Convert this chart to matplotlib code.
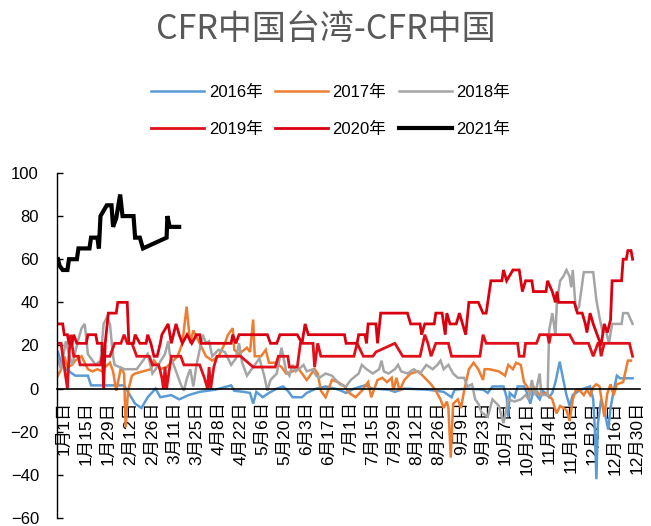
import numpy as np
import matplotlib
matplotlib.use('Agg')
import matplotlib.pyplot as plt

plt.rcParams['font.family'] = ['Liberation Sans', 'Noto Sans CJK SC', 'DejaVu Sans']

############ data (day of year, value) ############
tickLabels = ['1月1日', '1月15日', '1月29日', '2月12日', '2月26日', '3月11日', '3月25日',
              '4月8日', '4月22日', '5月6日', '5月20日', '6月3日', '6月17日', '7月1日',
              '7月15日', '7月29日', '8月12日', '8月26日', '9月9日', '9月23日', '10月7日',
              '10月21日', '11月4日', '11月18日', '12月2日', '12月16日', '12月30日']

days2016 = [0, 2, 5, 9, 11, 19, 21, 42, 44, 49, 53, 57, 62, 65, 72, 77, 83, 90, 95, 100, 105, 110,
            112, 118, 122, 124, 126, 130, 134, 139, 143, 146, 149, 155, 158, 164, 170, 176, 180, 183,
            188, 195, 200, 210, 214, 220, 235, 245, 250, 252, 260, 270, 273, 276, 283, 285, 286, 287,
            290, 292, 296, 298, 300, 302, 306, 308, 312, 314, 316, 318.7, 321, 323, 325, 327, 331,
            334, 338, 340, 341, 342, 343, 345, 347, 349.5, 351, 353, 355, 357, 365]
vals2016 = [17, 12, 9, 7, 6, 6, 1.5, 1.5, -1, -7, -9, -4, 0, -4, -3, -5, -3, -1.5, -1, -0.5, 0.5, 1.5,
            -1, -1.5, -2, -7, -1.5, -4, -2, 0, 1, -1, -4, -4, -2, 0, 1, 0, -1, -2,
            0, 1.5, 0, -0.5, -1.5, 0, -0.5, -1.5, -4, -0.5, 0, -0.5, -2, 1, 1, -4, -13, -2,
            -4, 1, 1, -2, -7, -1, -5, -1, -4, -2, 3, 12.5, 4, -3, -8, -3, -1,
            0, 1, -5, -19, -42, -16, -5, -10, -19, -9, -1, 6, 4.8, 4.8]

days2017 = [0, 2, 4, 6, 9, 11, 15, 19, 22, 25, 28, 30, 33, 35, 37, 39, 40, 42, 43, 44.5, 47, 49, 54,
            59, 61, 65, 69, 72, 76, 79, 81.7, 84, 86, 88, 90, 94, 98, 102, 106, 108, 111, 112, 115,
            120, 122, 124, 125, 129, 132, 134, 138, 142, 145, 149, 153, 156, 158, 163, 165, 167, 170,
            174, 178, 182, 185, 189, 193, 197, 199, 203, 206, 209, 212, 213, 215, 217, 220, 224, 229,
            233, 237, 240, 243, 245, 247, 248, 249.5, 251, 254, 256, 258, 261, 264, 267, 270, 271,
            274, 280, 284, 286, 289, 291, 294, 296, 298, 300, 302, 306, 310, 314, 316.6, 319, 323,
            325, 327, 329, 331, 334, 336, 338, 340, 342, 344, 347, 349, 351, 353, 355, 359, 362, 364]
vals2017 = [6, 9, 15, 10, 11, 13, 15, 9, 8, 9, 8, 10, 12, 8, -1, 6, 10, 7, -18, -1, 6, 7, 8,
            9, 13, 9, 10, 12, 15, 21, 38, 21, 27, 24, 21, 15, 13, 15, 21, 25, 28, 18, 16,
            19, 17, 32, 15, 15, 18, 12, 12, 10, 7, 8, 9, 6, 4, 9, 7, -1, -4,
            4, 3, 1, -2, -4, -1, 3, -4, 4, 5, 3, 5, -1, 5, -1, 4, 7, 8,
            5, 2, -1, -5, -9, -6, -9, -32, -7, -5, -9, -1, 9, 12, 9, 4, 9,
            9, 8, 6, 11, 9, 12, 11, 3, 1, -2, 1, -3, -2, -5, -11.5, -8, -10,
            -15, -5, -0.5, -0.5, -3, -0.5, -3, 0.7, 2, 1, -13, -2, 2, -3, 2, 3, 13, 13]

days2018 = [0, 2, 5, 7, 9, 13, 15, 17, 19, 24, 27, 29, 31, 33, 35, 36, 42, 50, 54, 57, 60, 62, 68,
            70, 71, 74, 78, 80, 82, 84, 86, 88, 90, 92, 94, 96, 98, 102, 106, 110, 113, 115, 117,
            120, 124, 128, 131, 133, 135, 139, 142, 145, 147, 149, 151, 153, 156, 158, 162, 164, 166,
            170, 174, 179, 183, 186, 191, 193, 196, 200, 204, 205.5, 207, 210, 214, 216, 218, 222,
            226, 230, 234, 238, 241, 243, 245, 248, 251, 254, 258, 260, 263, 265, 267, 269, 273,
            276, 280, 283, 286, 290, 294, 297, 299, 301, 303, 306, 307, 311, 312, 314, 316, 317,
            319, 321, 323, 325, 326, 327, 329, 331, 334, 340, 342, 344, 346, 348, 350, 352, 358,
            359, 362, 365]
vals2018 = [13, 9, 22, 16, 11, 23, 28, 30, 16, 11, 13, 30, 33, 30, 15, 11, 9, 9, 13, 16, 7, 9, 16,
            22, 16, 10, 2, -1, 5, 9, 1, 11, 18, 25, 21, 22, 15, 18, 17, 11, 14, 21, 12,
            6, 10, 14, 6, -1, 4, 7, 19, 8, 6, 11, 8, 9, 11, 8, 9, 6, 5,
            7, 6, 2, 1, 4, 7, 11, 9, 7, 9, 13, 8, 7, 9, 11, 8, 7,
            9, 7, 11, 9, 11, 13, 9, 11, 7, 5, 5, 1, 2, -5, -7, -11, -13,
            -5, -8, -16, -5, -6, -5, -3, -5, 4, -3, 7, -3, -3, 27, 35, 25, 41,
            50, 52, 55, 52, 47, 55, 36, 38, 54, 54, 41, 33, 26, 27, 21, 30, 30,
            35, 35, 30]

days2019 = [0, 2, 3, 6, 7, 8, 10, 13, 14, 27, 28, 33, 36, 40, 42, 44, 47, 50, 58, 60, 64, 66, 67,
            68, 69, 71, 72, 78, 80, 86, 90, 93, 95, 96, 97, 99, 101, 113, 116, 124, 138, 140, 146,
            147, 152, 154, 162, 163, 165, 167, 183, 188, 190, 194, 200, 202, 214, 219, 230, 233,
            235, 237, 240, 248, 250, 268, 270, 272, 292, 293, 296, 297, 304, 306, 311, 312, 313,
            325, 328, 337, 340, 343, 344, 345, 347, 363, 365]
vals2019 = [21, 21, 15, 0, 15, 25, 15, 15, 11, 11, 15, 15, 21, 21, 25, 21, 21, 15, 15, 11, 11, 5, 0,
            10, 0, 10, 15, 15, 11, 11, 11, 5, 0, 10, 0, 10, 15, 15, 15, 10, 10, 15, 15,
            10, 10, 21, 21, 10, 21, 15, 15, 15, 21, 15, 15, 17, 21, 15, 15, 25,
            21, 15, 21, 21, 15, 15, 25, 21, 21, 15, 15, 21, 21, 25, 25, 21, 25,
            25, 21, 21, 15, 21, 21, 15, 21, 21, 15]

days2020 = [0, 3, 4, 6, 7, 9, 10, 12, 18, 19, 24, 25, 28, 29, 30, 32, 37, 38, 44, 45, 48, 49, 52,
            56, 57, 59, 61, 63, 65, 66, 70, 72, 75, 77, 79, 82, 85, 88, 90, 91, 94, 110, 111, 113,
            115, 126, 133, 135, 139, 141, 152, 155, 157, 159, 182, 183, 190, 191, 195, 196, 197, 202,
            203, 205, 222, 224, 230, 231, 233, 239, 240, 244, 246, 247, 249, 253, 255, 259, 261, 267,
            270, 272, 275, 282, 283, 285, 289, 293, 295, 297, 301, 302, 310, 311, 314, 316, 317,
            318, 328, 330, 333, 335, 336, 338, 340, 342, 345, 347, 349, 351, 352, 358, 359, 361,
            362, 364, 365]
vals2020 = [30, 30, 25, 25, 21, 21, 25, 21, 21, 25, 25, 21, 21, 0, 21, 35, 35, 40, 40, 21, 21, 25, 21,
            21, 25, 21, 15, 15, 21, 25, 30, 21, 30, 25, 21, 25, 21, 25, 25, 21, 21, 21, 25, 21,
            25, 25, 25, 21, 21, 25, 25, 21, 30, 25, 25, 21, 21, 25, 25, 21, 30, 30,
            21, 35, 35, 30, 30, 25, 30, 30, 35, 35, 25, 35, 30, 30, 35, 25, 40, 40,
            35, 35, 50, 50, 55, 50, 55, 55, 45, 50, 50, 45, 45, 50, 45, 40, 45,
            40, 40, 35, 35, 30, 26, 35, 30, 26, 20, 30, 26, 32, 50, 50, 60, 60,
            64, 64, 60]

days2021 = [0, 1, 3, 6, 7, 12, 13, 20, 21, 25, 26, 27, 31, 34, 35, 37, 39.5, 41, 48, 49, 52, 54, 69,
            69.5, 71, 77]
vals2021 = [60, 57, 55, 55, 60, 60, 65, 65, 70, 70, 65, 80, 85, 85, 75, 79, 90, 80, 80, 70, 70, 65, 70,
            80, 75, 75]

series = [
    ('2016年', days2016, vals2016, '#5B9BD5', 1.8),
    ('2017年', days2017, vals2017, '#ED7D31', 1.8),
    ('2018年', days2018, vals2018, '#A5A5A5', 1.8),
    ('2019年', days2019, vals2019, '#E0101A', 2.0),
    ('2020年', days2020, vals2020, '#D9000F', 2.0),
    ('2021年', days2021, vals2021, '#000000', 3.0),
]

############ plot ############
fig = plt.figure(figsize=(6.51, 5.26), dpi=100)
ax = fig.add_axes([0.0876, 0.0152, 0.895, 0.656])

# spine position first: moving a spine resets the tick settings
ax.spines[['top', 'right']].set_visible(False)
ax.spines['bottom'].set_position(('data', 0))
ax.spines['bottom'].set_linewidth(1.2)
ax.spines['left'].set_linewidth(1.0)

lines = {}
for name, d, v, c, lw in series:
    ln, = ax.plot(d, v, color=c, linewidth=lw, solid_joinstyle='miter', label=name)
    lines[name] = ln

ax.set_xlim(-0.6, 369.5)
ax.set_ylim(-60, 100)
ax.set_yticks(np.arange(-60, 101, 20))
ax.set_xticks(np.arange(len(tickLabels)) * 14 + 4)
ax.set_xticklabels(tickLabels)
ax.tick_params(axis='y', direction='in', length=4, width=1, labelsize=12, pad=13)
ax.tick_params(axis='x', length=0, labelsize=12.5, pad=9, labelrotation=90)
for t in ax.get_xticklabels():
    t.set_va('top')
    t.set_ha('center')

fig.text(0.5, 0.944, 'CFR中国台湾-CFR中国', ha='center', va='center', fontsize=24.5,
         color='#595959', family=['Noto Sans CJK SC', 'DejaVu Sans'])

order = ['2016年', '2019年', '2017年', '2020年', '2018年', '2021年']
fig.legend([lines[k] for k in order], order, loc='center', bbox_to_anchor=(0.508, 0.789),
           ncol=3, frameon=False, fontsize=12, handlelength=3.2, handletextpad=0.25,
           columnspacing=0.75, labelspacing=1.3, borderpad=0)

fig.savefig('out.png', dpi=100)
